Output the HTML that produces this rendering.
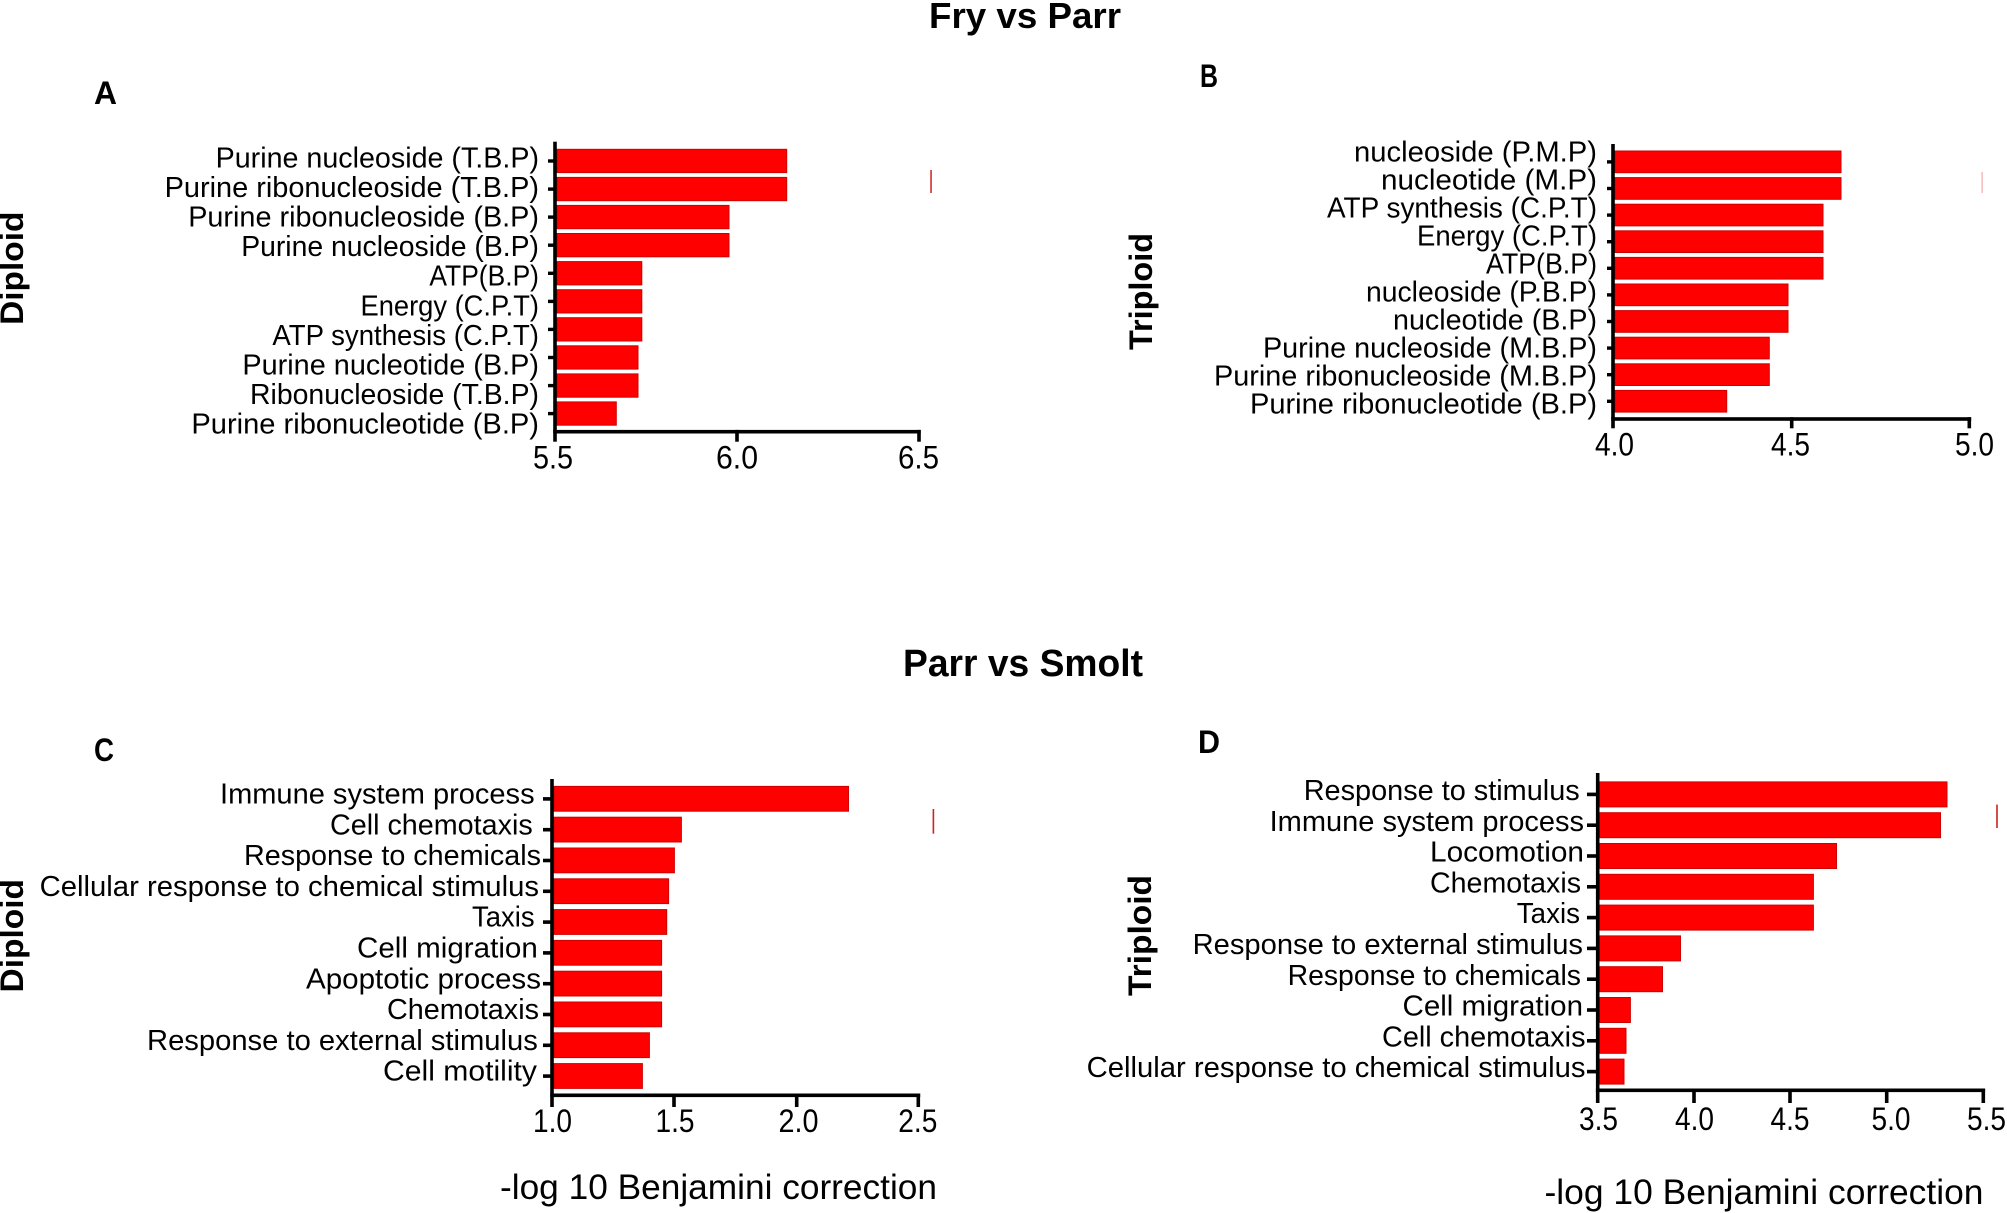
<!DOCTYPE html>
<html><head><meta charset="utf-8"><style>
html,body{margin:0;padding:0;background:#fff;}
svg{display:block;}
text{font-family:"Liberation Sans",Arial,sans-serif;fill:#000;}
.lb{font-size:29px;}
.tk{font-size:32px;}
.pl{font-size:32px;font-weight:bold;}
.yl{font-size:32px;font-weight:bold;}
.ti{font-weight:bold;}
.bar{fill:#ff0000;stroke:#d00000;stroke-width:1;}
</style></head><body>
<svg width="2007" height="1213" viewBox="0 0 2007 1213" xmlns="http://www.w3.org/2000/svg">
<rect width="2007" height="1213" fill="#fff"/>

<!-- Titles -->
<text class="ti" x="929" y="28" font-size="36" textLength="192" lengthAdjust="spacingAndGlyphs">Fry vs Parr</text>
<text class="ti" x="903" y="676" font-size="38" textLength="240" lengthAdjust="spacingAndGlyphs">Parr vs Smolt</text>

<!-- Panel letters -->
<text class="pl" x="94" y="104" textLength="23" lengthAdjust="spacingAndGlyphs">A</text>
<text class="pl" x="1200" y="87" textLength="18" lengthAdjust="spacingAndGlyphs">B</text>
<text class="pl" x="94" y="761" textLength="20" lengthAdjust="spacingAndGlyphs">C</text>
<text class="pl" x="1198" y="753" textLength="22" lengthAdjust="spacingAndGlyphs">D</text>

<!-- Rotated y labels -->
<text class="yl" transform="translate(23,268.3) rotate(-90)" x="-56.6" y="0" textLength="113.3" lengthAdjust="spacingAndGlyphs">Diploid</text>
<text class="yl" transform="translate(1152,291.5) rotate(-90)" x="-58.5" y="0" textLength="117" lengthAdjust="spacingAndGlyphs">Triploid</text>
<text class="yl" transform="translate(23,935.7) rotate(-90)" x="-56.8" y="0" textLength="113.5" lengthAdjust="spacingAndGlyphs">Diploid</text>
<text class="yl" transform="translate(1151,935.5) rotate(-90)" x="-60.5" y="0" textLength="121" lengthAdjust="spacingAndGlyphs">Triploid</text>

<!-- ===== Panel A ===== -->
<g>
<rect class="bar" x="557" y="149.3" width="229.7" height="23.3"/>
<rect class="bar" x="557" y="177.4" width="229.7" height="23.3"/>
<rect class="bar" x="557" y="205.4" width="172" height="23.3"/>
<rect class="bar" x="557" y="233.5" width="172" height="23.3"/>
<rect class="bar" x="557" y="261.6" width="84.8" height="23.3"/>
<rect class="bar" x="557" y="289.7" width="84.8" height="23.3"/>
<rect class="bar" x="557" y="317.7" width="84.8" height="23.3"/>
<rect class="bar" x="557" y="345.8" width="81" height="23.3"/>
<rect class="bar" x="557" y="373.9" width="81" height="23.3"/>
<rect class="bar" x="557" y="401.9" width="59.3" height="23.3"/>
<rect x="553.2" y="141.7" width="3.6" height="300" fill="#000"/>
<rect x="553.2" y="429.9" width="367.5" height="3.6" fill="#000"/>
<rect x="735.2" y="429.9" width="3.6" height="11.8" fill="#000"/>
<rect x="917.2" y="429.9" width="3.6" height="11.8" fill="#000"/>
<g fill="#000">
<rect x="548" y="159.3" width="6" height="3.4"/>
<rect x="548" y="187.4" width="6" height="3.4"/>
<rect x="548" y="215.4" width="6" height="3.4"/>
<rect x="548" y="243.5" width="6" height="3.4"/>
<rect x="548" y="271.6" width="6" height="3.4"/>
<rect x="548" y="299.7" width="6" height="3.4"/>
<rect x="548" y="327.7" width="6" height="3.4"/>
<rect x="548" y="355.8" width="6" height="3.4"/>
<rect x="548" y="383.9" width="6" height="3.4"/>
<rect x="548" y="411.9" width="6" height="3.4"/>
</g>
<text class="lb" x="215.6" y="167.5" textLength="323.4" lengthAdjust="spacingAndGlyphs">Purine nucleoside (T.B.P)</text>
<text class="lb" x="164.6" y="197.1" textLength="374.4" lengthAdjust="spacingAndGlyphs">Purine ribonucleoside (T.B.P)</text>
<text class="lb" x="188.2" y="226.6" textLength="350.8" lengthAdjust="spacingAndGlyphs">Purine ribonucleoside (B.P)</text>
<text class="lb" x="241.2" y="256.2" textLength="297.8" lengthAdjust="spacingAndGlyphs">Purine nucleoside (B.P)</text>
<text class="lb" x="429.4" y="285.7" textLength="109.6" lengthAdjust="spacingAndGlyphs">ATP(B.P)</text>
<text class="lb" x="360.5" y="315.3" textLength="178.5" lengthAdjust="spacingAndGlyphs">Energy (C.P.T)</text>
<text class="lb" x="272.4" y="344.9" textLength="266.6" lengthAdjust="spacingAndGlyphs">ATP synthesis (C.P.T)</text>
<text class="lb" x="242.4" y="374.4" textLength="296.6" lengthAdjust="spacingAndGlyphs">Purine nucleotide (B.P)</text>
<text class="lb" x="250" y="404" textLength="289" lengthAdjust="spacingAndGlyphs">Ribonucleoside (T.B.P)</text>
<text class="lb" x="191.4" y="433.5" textLength="347.6" lengthAdjust="spacingAndGlyphs">Purine ribonucleotide (B.P)</text>
<text class="tk" x="533" y="468.5" textLength="40" lengthAdjust="spacingAndGlyphs">5.5</text>
<text class="tk" x="716" y="468.5" textLength="42" lengthAdjust="spacingAndGlyphs">6.0</text>
<text class="tk" x="898" y="468.5" textLength="41" lengthAdjust="spacingAndGlyphs">6.5</text>
<rect x="930.3" y="170" width="1.5" height="23" fill="#d02020"/>
</g>

<!-- ===== Panel B ===== -->
<g>
<rect class="bar" x="1615" y="151" width="226" height="21.7"/>
<rect class="bar" x="1615" y="177.6" width="226" height="21.7"/>
<rect class="bar" x="1615" y="204.2" width="208" height="21.7"/>
<rect class="bar" x="1615" y="230.8" width="208" height="21.7"/>
<rect class="bar" x="1615" y="257.4" width="208" height="21.7"/>
<rect class="bar" x="1615" y="284" width="173" height="21.7"/>
<rect class="bar" x="1615" y="310.6" width="173" height="21.7"/>
<rect class="bar" x="1615" y="337.2" width="154.3" height="21.7"/>
<rect class="bar" x="1615" y="363.8" width="154.3" height="21.7"/>
<rect class="bar" x="1615" y="390.4" width="111.7" height="21.7"/>
<rect x="1611.2" y="144" width="3.6" height="284.3" fill="#000"/>
<rect x="1611.2" y="417.2" width="360" height="3.6" fill="#000"/>
<rect x="1789.9" y="417.2" width="3.6" height="11.1" fill="#000"/>
<rect x="1967.5" y="417.2" width="3.6" height="11.1" fill="#000"/>
<g fill="#000">
<rect x="1607" y="160.2" width="5" height="3.4"/>
<rect x="1607" y="186.8" width="5" height="3.4"/>
<rect x="1607" y="213.4" width="5" height="3.4"/>
<rect x="1607" y="240" width="5" height="3.4"/>
<rect x="1607" y="266.6" width="5" height="3.4"/>
<rect x="1607" y="293.2" width="5" height="3.4"/>
<rect x="1607" y="319.8" width="5" height="3.4"/>
<rect x="1607" y="346.4" width="5" height="3.4"/>
<rect x="1607" y="373" width="5" height="3.4"/>
<rect x="1607" y="399.6" width="5" height="3.4"/>
</g>
<text class="lb" x="1354" y="161.5" textLength="243" lengthAdjust="spacingAndGlyphs">nucleoside (P.M.P)</text>
<text class="lb" x="1381" y="189.5" textLength="216" lengthAdjust="spacingAndGlyphs">nucleotide (M.P)</text>
<text class="lb" x="1327" y="217.5" textLength="270" lengthAdjust="spacingAndGlyphs">ATP synthesis (C.P.T)</text>
<text class="lb" x="1417" y="245.5" textLength="180" lengthAdjust="spacingAndGlyphs">Energy (C.P.T)</text>
<text class="lb" x="1486" y="273.5" textLength="111" lengthAdjust="spacingAndGlyphs">ATP(B.P)</text>
<text class="lb" x="1366" y="301.5" textLength="231" lengthAdjust="spacingAndGlyphs">nucleoside (P.B.P)</text>
<text class="lb" x="1393" y="329.5" textLength="204" lengthAdjust="spacingAndGlyphs">nucleotide (B.P)</text>
<text class="lb" x="1263" y="357.5" textLength="334" lengthAdjust="spacingAndGlyphs">Purine nucleoside (M.B.P)</text>
<text class="lb" x="1214" y="385.5" textLength="383" lengthAdjust="spacingAndGlyphs">Purine ribonucleoside (M.B.P)</text>
<text class="lb" x="1250" y="413.5" textLength="347" lengthAdjust="spacingAndGlyphs">Purine ribonucleotide (B.P)</text>
<text class="tk" x="1595" y="455.5" textLength="39" lengthAdjust="spacingAndGlyphs">4.0</text>
<text class="tk" x="1771" y="455.5" textLength="39" lengthAdjust="spacingAndGlyphs">4.5</text>
<text class="tk" x="1955" y="455.5" textLength="39" lengthAdjust="spacingAndGlyphs">5.0</text>
<rect x="1981.5" y="172" width="1.2" height="21" fill="#f0a8a8"/>
</g>

<!-- ===== Panel C ===== -->
<g>
<rect class="bar" x="554" y="786.4" width="294.5" height="24.8"/>
<rect class="bar" x="554" y="817.2" width="127.4" height="24.8"/>
<rect class="bar" x="554" y="848" width="120.4" height="24.8"/>
<rect class="bar" x="554" y="878.8" width="114.6" height="24.8"/>
<rect class="bar" x="554" y="909.6" width="112.7" height="24.8"/>
<rect class="bar" x="554" y="940.4" width="107.6" height="24.8"/>
<rect class="bar" x="554" y="971.2" width="107.6" height="24.8"/>
<rect class="bar" x="554" y="1002" width="107.6" height="24.8"/>
<rect class="bar" x="554" y="1032.8" width="95.4" height="24.8"/>
<rect class="bar" x="554" y="1063.6" width="88.4" height="24.8"/>
<rect x="550.2" y="779" width="3.6" height="328" fill="#000"/>
<rect x="550.2" y="1093.5" width="370" height="3.6" fill="#000"/>
<rect x="672.2" y="1093.5" width="3.6" height="13.5" fill="#000"/>
<rect x="794.9" y="1093.5" width="3.6" height="13.5" fill="#000"/>
<rect x="916.5" y="1093.5" width="3.6" height="13.5" fill="#000"/>
<g fill="#000">
<rect x="543" y="797.1" width="8" height="3.6"/>
<rect x="543" y="827.9" width="8" height="3.6"/>
<rect x="543" y="858.7" width="8" height="3.6"/>
<rect x="543" y="889.5" width="8" height="3.6"/>
<rect x="543" y="920.3" width="8" height="3.6"/>
<rect x="543" y="951.1" width="8" height="3.6"/>
<rect x="543" y="981.9" width="8" height="3.6"/>
<rect x="543" y="1012.7" width="8" height="3.6"/>
<rect x="543" y="1043.5" width="8" height="3.6"/>
<rect x="543" y="1074.3" width="8" height="3.6"/>
</g>
<text class="lb" x="220" y="803.5" textLength="314.6" lengthAdjust="spacingAndGlyphs">Immune system process</text>
<text class="lb" x="330" y="834.3" textLength="202.7" lengthAdjust="spacingAndGlyphs">Cell chemotaxis</text>
<text class="lb" x="244" y="865.1" textLength="297" lengthAdjust="spacingAndGlyphs">Response to chemicals</text>
<text class="lb" x="39.6" y="895.9" textLength="499.4" lengthAdjust="spacingAndGlyphs">Cellular response to chemical stimulus</text>
<text class="lb" x="472" y="926.7" textLength="62.6" lengthAdjust="spacingAndGlyphs">Taxis</text>
<text class="lb" x="357" y="957.5" textLength="180.8" lengthAdjust="spacingAndGlyphs">Cell migration</text>
<text class="lb" x="306" y="988.3" textLength="235" lengthAdjust="spacingAndGlyphs">Apoptotic process</text>
<text class="lb" x="387" y="1019.1" textLength="152" lengthAdjust="spacingAndGlyphs">Chemotaxis</text>
<text class="lb" x="147" y="1049.9" textLength="390.8" lengthAdjust="spacingAndGlyphs">Response to external stimulus</text>
<text class="lb" x="383" y="1080.7" textLength="154" lengthAdjust="spacingAndGlyphs">Cell motility</text>
<text class="tk" x="533" y="1132" textLength="39" lengthAdjust="spacingAndGlyphs">1.0</text>
<text class="tk" x="655.5" y="1132" textLength="39" lengthAdjust="spacingAndGlyphs">1.5</text>
<text class="tk" x="778.5" y="1132" textLength="40" lengthAdjust="spacingAndGlyphs">2.0</text>
<text class="tk" x="898.3" y="1132" textLength="39" lengthAdjust="spacingAndGlyphs">2.5</text>
<text x="500" y="1199" font-size="35" textLength="437" lengthAdjust="spacingAndGlyphs">-log 10 Benjamini correction</text>
<rect x="932.6" y="809" width="1.6" height="24.7" fill="#d02020"/>
</g>

<!-- ===== Panel D ===== -->
<g>
<rect class="bar" x="1599.5" y="781.9" width="347.5" height="25"/>
<rect class="bar" x="1599.5" y="812.7" width="341" height="25"/>
<rect class="bar" x="1599.5" y="843.5" width="237" height="25"/>
<rect class="bar" x="1599.5" y="874.3" width="213.9" height="25"/>
<rect class="bar" x="1599.5" y="905.1" width="213.9" height="25"/>
<rect class="bar" x="1599.5" y="935.9" width="81" height="25"/>
<rect class="bar" x="1599.5" y="966.7" width="63" height="25"/>
<rect class="bar" x="1599.5" y="997.5" width="30.9" height="25"/>
<rect class="bar" x="1599.5" y="1028.3" width="26.5" height="25"/>
<rect class="bar" x="1599.5" y="1059.1" width="24.5" height="25"/>
<rect x="1595.9" y="773" width="3.6" height="330" fill="#000"/>
<rect x="1595.9" y="1088.5" width="389.2" height="3.6" fill="#000"/>
<rect x="1692.2" y="1088.5" width="3.6" height="14.5" fill="#000"/>
<rect x="1788.2" y="1088.5" width="3.6" height="14.5" fill="#000"/>
<rect x="1884.9" y="1088.5" width="3.6" height="14.5" fill="#000"/>
<rect x="1981.5" y="1088.5" width="3.6" height="14.5" fill="#000"/>
<g fill="#000">
<rect x="1587" y="792.6" width="9" height="3.6"/>
<rect x="1587" y="823.4" width="9" height="3.6"/>
<rect x="1587" y="854.2" width="9" height="3.6"/>
<rect x="1587" y="885" width="9" height="3.6"/>
<rect x="1587" y="915.8" width="9" height="3.6"/>
<rect x="1587" y="946.6" width="9" height="3.6"/>
<rect x="1587" y="977.4" width="9" height="3.6"/>
<rect x="1587" y="1008.2" width="9" height="3.6"/>
<rect x="1587" y="1039" width="9" height="3.6"/>
<rect x="1587" y="1069.8" width="9" height="3.6"/>
</g>
<text class="lb" x="1303.7" y="800" textLength="276" lengthAdjust="spacingAndGlyphs">Response to stimulus</text>
<text class="lb" x="1269.6" y="830.8" textLength="314.4" lengthAdjust="spacingAndGlyphs">Immune system process</text>
<text class="lb" x="1430" y="861.6" textLength="154" lengthAdjust="spacingAndGlyphs">Locomotion</text>
<text class="lb" x="1430" y="892.4" textLength="151" lengthAdjust="spacingAndGlyphs">Chemotaxis</text>
<text class="lb" x="1516.8" y="923.2" textLength="63.2" lengthAdjust="spacingAndGlyphs">Taxis</text>
<text class="lb" x="1192.6" y="954" textLength="390.4" lengthAdjust="spacingAndGlyphs">Response to external stimulus</text>
<text class="lb" x="1287.6" y="984.8" textLength="293.4" lengthAdjust="spacingAndGlyphs">Response to chemicals</text>
<text class="lb" x="1402.5" y="1015.6" textLength="180.5" lengthAdjust="spacingAndGlyphs">Cell migration</text>
<text class="lb" x="1382" y="1046.4" textLength="203.5" lengthAdjust="spacingAndGlyphs">Cell chemotaxis</text>
<text class="lb" x="1086.7" y="1077.2" textLength="498.8" lengthAdjust="spacingAndGlyphs">Cellular response to chemical stimulus</text>
<text class="tk" x="1579" y="1130" textLength="39" lengthAdjust="spacingAndGlyphs">3.5</text>
<text class="tk" x="1675" y="1130" textLength="39" lengthAdjust="spacingAndGlyphs">4.0</text>
<text class="tk" x="1770.5" y="1130" textLength="39" lengthAdjust="spacingAndGlyphs">4.5</text>
<text class="tk" x="1871.5" y="1130" textLength="39" lengthAdjust="spacingAndGlyphs">5.0</text>
<text class="tk" x="1967" y="1130" textLength="39" lengthAdjust="spacingAndGlyphs">5.5</text>
<text x="1544.5" y="1204" font-size="35" textLength="439" lengthAdjust="spacingAndGlyphs">-log 10 Benjamini correction</text>
<rect x="1996.2" y="804.6" width="1.6" height="23.4" fill="#d02020"/>
</g>
</svg>
</body></html>
